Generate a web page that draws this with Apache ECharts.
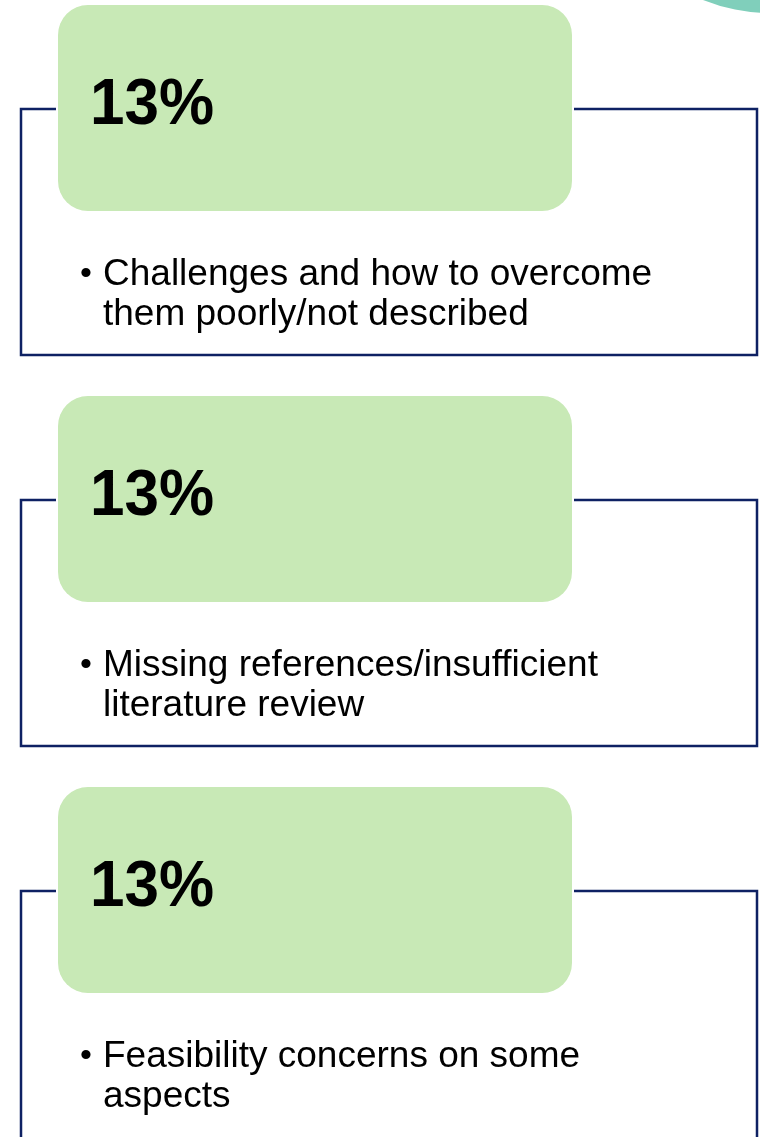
<!DOCTYPE html>
<html>
<head>
<meta charset="utf-8">
<script src="https://cdn.jsdelivr.net/npm/echarts@6/dist/echarts.min.js"></script>
<style>
  html, body { margin: 0; padding: 0; background: #fff; }
  #chart { width: 760px; height: 1137px; }
</style>
</head>
<body>
<div id="chart"></div>
<script>
// share of reviews mentioning each issue
const percents = [13, 13, 13];
const bulletLines = [
  ['Challenges and how to overcome', 'them poorly/not described'],
  ['Missing references/insufficient', 'literature review'],
  ['Feasibility concerns on some', 'aspects'],
];

const chart = echarts.init(document.getElementById('chart'));

// each panel takes one unit on the (hidden) y axis; the page shows ~2.9 of them
const PANEL_PX = 391;
const VISIBLE_ROWS = (1137 - 4) / PANEL_PX;

function renderPanel(params, api) {
  const i = params.dataIndex;
  const y0 = api.coord([0, i])[1];
  const x = (v) => api.coord([v, i])[0];
  const unit = api.size([0, 1])[1] / PANEL_PX;
  const y = (v) => y0 + v * unit;

  const top = y(105);
  // last panel is cut off by the page edge
  const bottom = i === percents.length - 1 ? y(380) : y(351);

  return {
    type: 'group',
    children: [
      {
        type: 'polyline',
        shape: {
          points: [
            [x(56), top], [x(21), top], [x(21), bottom],
            [x(757), bottom], [x(757), top], [x(574), top],
          ],
        },
        style: { stroke: '#0e2163', lineWidth: 2.5, fill: null },
      },
      {
        type: 'rect',
        shape: { x: x(58), y: y(1), width: x(572) - x(58), height: y(207) - y(1), r: 30 },
        style: { fill: '#c8e9b6' },
      },
      {
        type: 'text',
        x: x(90),
        y: y(102),
        scaleY: 1.04,
        style: {
          text: percents[i] + '%',
          x: 0, y: 0,
          font: 'bold 62px "Liberation Sans", Arial, sans-serif',
          fill: '#000',
          verticalAlign: 'middle',
        },
      },
      {
        type: 'text',
        style: {
          text: '\u2022',
          x: x(80), y: y(271),
          font: '34px "Liberation Sans", Arial, sans-serif',
          fill: '#000',
          verticalAlign: 'middle',
        },
      },
      ...bulletLines[i].map((line, k) => ({
        type: 'text',
        style: {
          text: line,
          x: x(103), y: y(271 + k * 40),
          font: '37px "Liberation Sans", Arial, sans-serif',
          fill: '#000',
          verticalAlign: 'middle',
        },
      })),
    ],
  };
}

chart.setOption({
  animation: false,
  grid: { left: 0, right: 0, top: 4, bottom: 0 },
  xAxis: { type: 'value', min: 0, max: 760, show: false },
  yAxis: { type: 'value', min: 0, max: VISIBLE_ROWS, inverse: true, show: false },
  graphic: [
    {
      type: 'circle',
      shape: { cx: 770, cy: -166, r: 179 },
      style: { fill: '#80cfbb' },
    },
  ],
  series: [{
    type: 'custom',
    renderItem: renderPanel,
    data: percents.map((_, i) => [0, i]),
    encode: { x: 0, y: 1 },
    clip: false,
    silent: true,
  }],
});
</script>
</body>
</html>
